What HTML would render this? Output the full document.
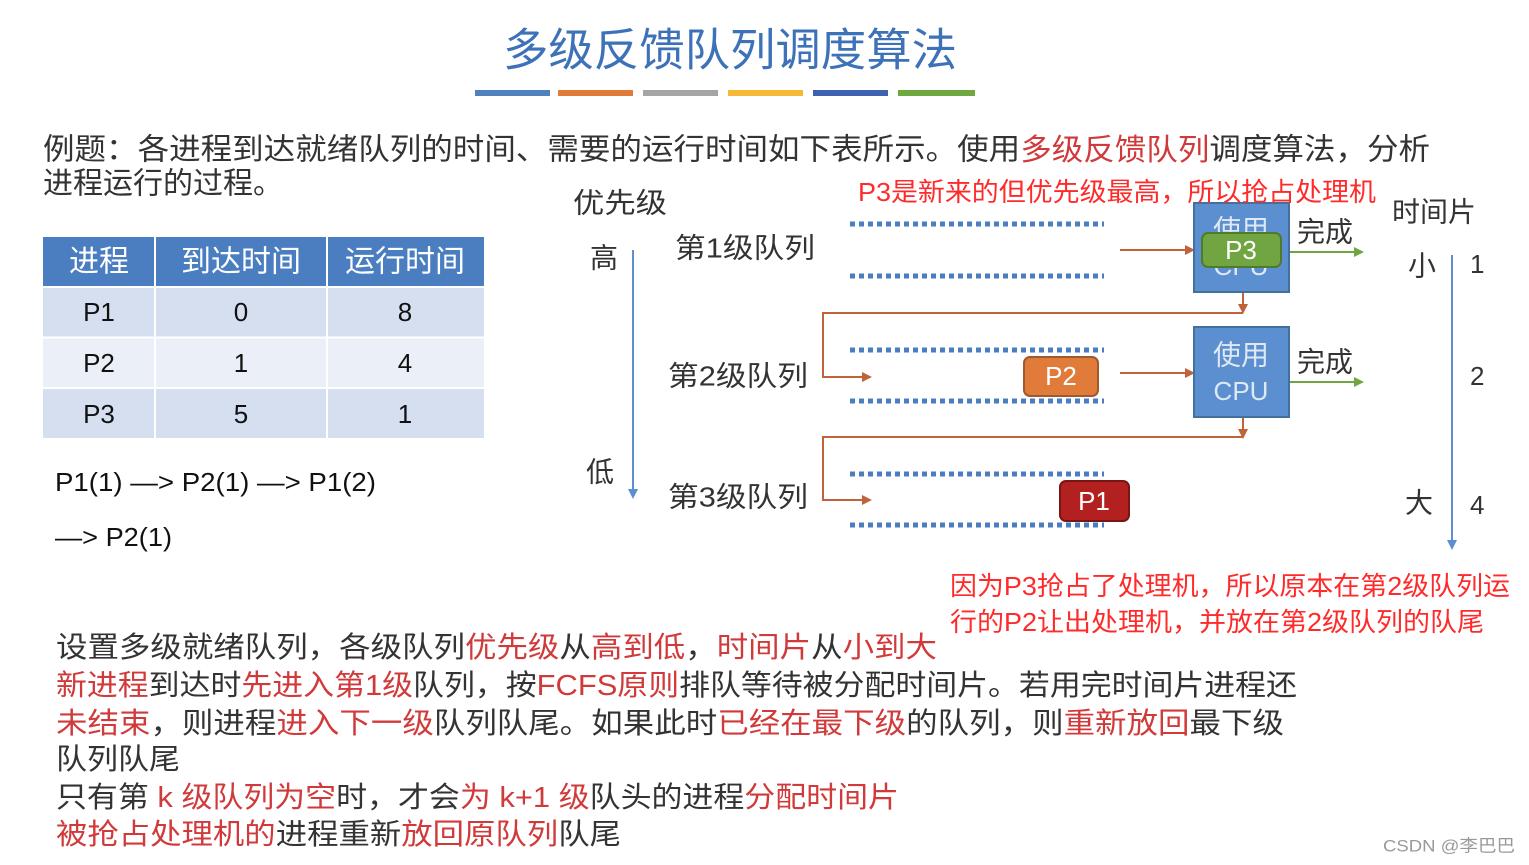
<!DOCTYPE html>
<html><head><meta charset="utf-8"><style>
html,body{margin:0;padding:0;background:#fff;width:1529px;height:865px;overflow:hidden}
svg{display:block}
text{font-family:"Liberation Sans","Noto Sans CJK SC",sans-serif;dominant-baseline:central}
.r{fill:#d13a3a}
</style></head><body>
<svg width="1529" height="865" viewBox="0 0 1529 865" xmlns="http://www.w3.org/2000/svg">
<defs>
<marker id="ao" markerWidth="10" markerHeight="10" refX="8" refY="5" orient="auto" markerUnits="userSpaceOnUse"><path d="M0,0 L10,5 L0,10z" fill="#c0623a"/></marker>
<marker id="ag" markerWidth="10" markerHeight="10" refX="8" refY="5" orient="auto" markerUnits="userSpaceOnUse"><path d="M0,0 L10,5 L0,10z" fill="#70a542"/></marker>
<marker id="ab" markerWidth="10" markerHeight="10" refX="8" refY="5" orient="auto" markerUnits="userSpaceOnUse"><path d="M0,0 L10,5 L0,10z" fill="#5b8fcf"/></marker>
</defs>
<text x="503" y="50" font-size="45" fill="#3d72b8" textLength="454" lengthAdjust="spacingAndGlyphs">多级反馈队列调度算法</text>
<rect x="475" y="90" width="75" height="6" fill="#4f81bd"/>
<rect x="558" y="90" width="75" height="6" fill="#e07b39"/>
<rect x="643" y="90" width="75" height="6" fill="#a5a5a5"/>
<rect x="728" y="90" width="75" height="6" fill="#f5b935"/>
<rect x="813" y="90" width="75" height="6" fill="#3d62b0"/>
<rect x="898" y="90" width="77" height="6" fill="#6fa83f"/>

<text x="43" y="150" font-size="30" fill="#333" textLength="1387" lengthAdjust="spacingAndGlyphs">例题：各进程到达就绪队列的时间、需要的运行时间如下表所示。使用<tspan class="r">多级反馈队列</tspan>调度算法，分析</text>
<text x="43" y="184" font-size="30" fill="#333">进程运行的过程。</text>

<rect x="43" y="237" width="441" height="49" fill="#4a7ec0"/>
<rect x="43" y="288" width="441" height="49" fill="#d6dff0"/>
<rect x="43" y="338" width="441" height="49" fill="#ebeff8"/>
<rect x="43" y="389" width="441" height="49" fill="#d6dff0"/>
<g stroke="#fff" stroke-width="2"><line x1="155" y1="237" x2="155" y2="438"/><line x1="327" y1="237" x2="327" y2="438"/><line x1="43" y1="287" x2="484" y2="287"/><line x1="43" y1="337.5" x2="484" y2="337.5"/><line x1="43" y1="388" x2="484" y2="388"/></g>
<g font-size="30" fill="#fff" text-anchor="middle"><text x="99" y="262">进程</text><text x="241" y="262">到达时间</text><text x="405" y="262">运行时间</text></g>
<g font-size="26" fill="#111" text-anchor="middle">
<text x="99" y="312">P1</text><text x="241" y="312">0</text><text x="405" y="312">8</text>
<text x="99" y="363">P2</text><text x="241" y="363">1</text><text x="405" y="363">4</text>
<text x="99" y="414">P3</text><text x="241" y="414">5</text><text x="405" y="414">1</text></g>
<text x="55" y="482" font-size="26" fill="#111" textLength="321" lengthAdjust="spacingAndGlyphs">P1(1) —&gt; P2(1) —&gt; P1(2)</text>
<text x="55" y="537" font-size="26" fill="#111" textLength="117" lengthAdjust="spacingAndGlyphs">—&gt; P2(1)</text>

<g font-size="28" fill="#333">
<text x="573" y="203" textLength="94" lengthAdjust="spacingAndGlyphs">优先级</text><text x="590" y="258">高</text><text x="586" y="472">低</text>
<text x="675" y="248" textLength="140" lengthAdjust="spacingAndGlyphs">第1级队列</text><text x="668" y="376" textLength="140" lengthAdjust="spacingAndGlyphs">第2级队列</text><text x="668" y="497" textLength="140" lengthAdjust="spacingAndGlyphs">第3级队列</text>
<text x="1297" y="232">完成</text><text x="1297" y="362">完成</text>
<text x="1392" y="212">时间片</text><text x="1408" y="266">小</text><text x="1405" y="503">大</text>
<text x="1470" y="264" font-size="26">1</text><text x="1470" y="376" font-size="26">2</text><text x="1470" y="505" font-size="26">4</text>
</g>
<line x1="633" y1="250" x2="633" y2="497" stroke="#5b8fcf" stroke-width="2" marker-end="url(#ab)"/>
<line x1="1452" y1="255" x2="1452" y2="548" stroke="#5b8fcf" stroke-width="2" marker-end="url(#ab)"/>

<g stroke="#4a7ec0" stroke-width="5" stroke-dasharray="5,4">
<line x1="850" y1="224" x2="1104" y2="224"/><line x1="850" y1="276" x2="1104" y2="276"/>
<line x1="850" y1="350" x2="1104" y2="350"/><line x1="850" y1="401" x2="1104" y2="401"/>
<line x1="850" y1="474" x2="1104" y2="474"/><line x1="850" y1="525" x2="1104" y2="525"/>
</g>
<g stroke="#c0623a" stroke-width="2" fill="none">
<line x1="1120" y1="250" x2="1193" y2="250" marker-end="url(#ao)"/>
<line x1="1120" y1="373" x2="1193" y2="373" marker-end="url(#ao)"/>
<line x1="1243" y1="292" x2="1243" y2="312" marker-end="url(#ao)"/>
<line x1="1243" y1="417" x2="1243" y2="437" marker-end="url(#ao)"/>
<polyline points="1243,313 823,313 823,377 870,377" marker-end="url(#ao)"/>
<polyline points="1243,437 823,437 823,500 870,500" marker-end="url(#ao)"/>
</g>
<g stroke="#70a542" stroke-width="2"><line x1="1290" y1="252" x2="1362" y2="252" marker-end="url(#ag)"/><line x1="1290" y1="382" x2="1362" y2="382" marker-end="url(#ag)"/></g>
<rect x="1194" y="203" width="95" height="89" fill="#5b8fcf" stroke="#41719c" stroke-width="2"/>
<text x="1241" y="230" font-size="28" fill="#dfe8f5" text-anchor="middle">使用</text>
<text x="1241" y="266" font-size="26" fill="#dfe8f5" text-anchor="middle">CPU</text>
<rect x="1194" y="327" width="95" height="90" fill="#5b8fcf" stroke="#41719c" stroke-width="2"/>
<text x="1241" y="355" font-size="28" fill="#dfe8f5" text-anchor="middle">使用</text>
<text x="1241" y="391" font-size="26" fill="#dfe8f5" text-anchor="middle">CPU</text>
<rect x="1202" y="233" width="79" height="34" rx="6" fill="#70a542" stroke="#4f7a2c" stroke-width="2"/>
<text x="1241" y="250" font-size="26" fill="#fff" text-anchor="middle">P3</text>
<rect x="1024" y="357" width="74" height="39" rx="6" fill="#e07b39" stroke="#9c5a30" stroke-width="2"/>
<text x="1061" y="376" font-size="26" fill="#fff" text-anchor="middle">P2</text>
<rect x="1060" y="481" width="69" height="40" rx="6" fill="#b22020" stroke="#7a1515" stroke-width="2"/>
<text x="1094" y="501" font-size="26" fill="#fff" text-anchor="middle">P1</text>

<g fill="#ff2a2a" font-size="26">
<text x="858" y="192" textLength="518" lengthAdjust="spacingAndGlyphs">P3是新来的但优先级最高，所以抢占处理机</text>
<text x="950" y="586" textLength="560" lengthAdjust="spacingAndGlyphs">因为P3抢占了处理机，所以原本在第2级队列运</text>
<text x="950" y="622" textLength="534" lengthAdjust="spacingAndGlyphs">行的P2让出处理机，并放在第2级队列的队尾</text>
</g>

<g font-size="29" fill="#333">
<text x="56" y="648" textLength="881" lengthAdjust="spacingAndGlyphs">设置多级就绪队列，各级队列<tspan class="r">优先级</tspan>从<tspan class="r">高到低</tspan>，<tspan class="r">时间片</tspan>从<tspan class="r">小到大</tspan></text>
<text x="56" y="686" textLength="1241" lengthAdjust="spacingAndGlyphs"><tspan class="r">新进程</tspan>到达时<tspan class="r">先进入第1级</tspan>队列，按<tspan class="r">FCFS原则</tspan>排队等待被分配时间片。若用完时间片进程还</text>
<text x="56" y="724" textLength="1228" lengthAdjust="spacingAndGlyphs"><tspan class="r">未结束</tspan>，则进程<tspan class="r">进入下一级</tspan>队列队尾。如果此时<tspan class="r">已经在最下级</tspan>的队列，则<tspan class="r">重新放回</tspan>最下级</text>
<text x="56" y="760" textLength="124" lengthAdjust="spacingAndGlyphs">队列队尾</text>
<text x="56" y="798" textLength="843" lengthAdjust="spacingAndGlyphs">只有第 <tspan class="r">k 级队列为空</tspan>时，才会<tspan class="r">为 k+1 级</tspan>队头的进程<tspan class="r">分配时间片</tspan></text>
<text x="56" y="835" textLength="565" lengthAdjust="spacingAndGlyphs"><tspan class="r">被抢占处理机的</tspan>进程重新<tspan class="r">放回原队列</tspan>队尾</text>
</g>
<text x="1383" y="846" font-size="17" fill="#999" textLength="132" lengthAdjust="spacingAndGlyphs">CSDN @李巴巴</text>
</svg>
</body></html>
